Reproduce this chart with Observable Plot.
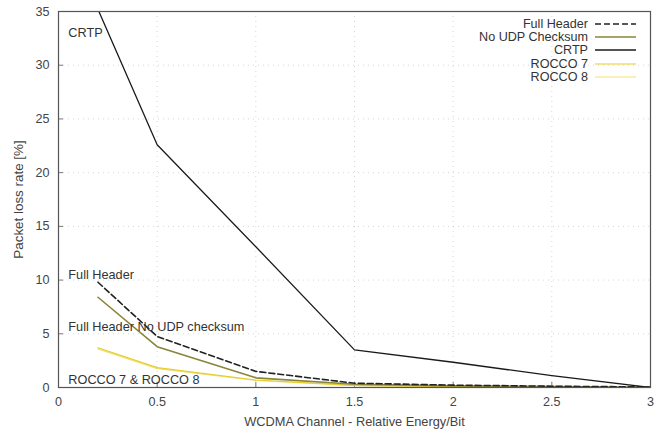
<!DOCTYPE html>
<html><head><meta charset="utf-8">
<script src="https://cdn.jsdelivr.net/npm/d3@7"></script>
<script src="https://cdn.jsdelivr.net/npm/@observablehq/plot@0.6"></script>
<style>
body{margin:0;background:#fff;font-family:"Liberation Sans",Arial,sans-serif;}
#wrap{position:relative;width:656px;height:429px;}
#legend{position:absolute;right:18px;top:17px;font-size:12.6px;color:#333;}
#legend div{display:flex;align-items:center;justify-content:flex-end;height:13.3px;}
#legend svg{margin-left:5px;}
</style>
</head><body>
<div id="wrap"></div>
<script>
const energy = [0.2, 0.5, 1, 1.5, 2, 2.5, 3];
const seriesNames = ["Full Header", "No UDP Checksum", "CRTP", "ROCCO 7", "ROCCO 8"];
const fullHeader = [9.8, 4.75, 1.5, 0.4, 0.22, 0.12, 0.05];
const noUdpChecksum = [8.4, 3.8, 0.9, 0.3, 0.15, 0.08, 0.0];
const crtp = [35.2, 22.6, 13.1, 3.5, 2.35, 1.1, 0.0];
const rocco7 = [3.7, 1.85, 0.7, 0.2, 0.1, 0.05, 0.0];
const rocco8 = [3.6, 1.75, 0.65, 0.18, 0.08, 0.04, 0.0];
const xTicks = [0, 0.5, 1, 1.5, 2, 2.5, 3];
const yTicks = [0, 5, 10, 15, 20, 25, 30, 35];
const labelTexts = ["CRTP", "Full Header", "Full Header No UDP checksum", "ROCCO 7 & ROCCO 8"];
const labelY = [33, 10.5, 5.6, 0.75];

const styles = {
  "Full Header": {stroke: "#222", dash: "6,3", width: 1.6},
  "No UDP Checksum": {stroke: "#8a8438", dash: null, width: 1.6},
  "CRTP": {stroke: "#1a1a1a", dash: null, width: 1.3},
  "ROCCO 7": {stroke: "#e6cc2a", dash: null, width: 1.2},
  "ROCCO 8": {stroke: "#efe07a", dash: null, width: 1.2}
};
const valuesBy = {"Full Header": fullHeader, "No UDP Checksum": noUdpChecksum, "CRTP": crtp, "ROCCO 7": rocco7, "ROCCO 8": rocco8};
const rows = seriesNames.flatMap(s => energy.map((e, i) => ({s, x: e, y: valuesBy[s][i]})));
const labels = labelTexts.map((t, i) => ({t, x: 0.05, y: labelY[i]}));

const lineMarks = ["ROCCO 8", "ROCCO 7", "No UDP Checksum", "Full Header", "CRTP"].map(s =>
  Plot.line(rows.filter(d => d.s === s), {x: "x", y: "y", stroke: styles[s].stroke, strokeWidth: styles[s].width, strokeDasharray: styles[s].dash, clip: true})
);

const chart = Plot.plot({
  width: 656, height: 429,
  marginLeft: 58, marginRight: 6, marginTop: 11, marginBottom: 42,
  style: {fontFamily: "Liberation Sans, Arial, sans-serif", fontSize: "12.6px", color: "#444", background: "#fff"},
  x: {domain: [0, 3]},
  y: {domain: [0, 35]},
  marks: [
    Plot.gridX(xTicks.slice(1, -1), {stroke: "#bbb", strokeOpacity: 0.6, strokeDasharray: "1,4"}),
    Plot.gridY(yTicks.slice(1, -1), {stroke: "#bbb", strokeOpacity: 0.6, strokeDasharray: "1,4"}),
    Plot.axisX({ticks: xTicks, tickSize: 0, tickPadding: 10, fontSize: 12.6, tickFormat: d => String(d), label: null}),
    Plot.axisY({ticks: yTicks, tickSize: 0, tickPadding: 9, fontSize: 12.6, tickFormat: d => String(d), label: null}),
    Plot.axisX({ticks: [], tickSize: 0, fontSize: 12.8,
      label: "WCDMA Channel - Relative Energy/Bit", labelAnchor: "center", labelArrow: "none", labelOffset: 38}),
    Plot.axisY({ticks: [], tickSize: 0, fontSize: 13.4,
      label: "Packet loss rate [%]", labelAnchor: "center", labelArrow: "none", labelOffset: 45}),
    Plot.tickX(xTicks, {x: d => d, insetTop: 371, stroke: "#777"}),
    Plot.tickY(yTicks, {y: d => d, insetRight: 587, stroke: "#777"}),
    ...lineMarks,
    Plot.text(labels, {x: "x", y: "y", text: "t", textAnchor: "start", fill: "#333", fontSize: 12.7}),
    Plot.frame({stroke: "#555", strokeWidth: 1.2})
  ]
});
document.getElementById("wrap").appendChild(chart);

const legend = document.createElement("div");
legend.id = "legend";
seriesNames.forEach(s => {
  const row = document.createElement("div");
  const st = styles[s];
  row.innerHTML = `<span>${s}</span><svg width="45" height="6"><line x1="2" y1="3" x2="43" y2="3" stroke="${st.stroke}" stroke-width="${st.width}" ${st.dash ? `stroke-dasharray="${st.dash}"` : ""}/></svg>`;
  legend.appendChild(row);
});
document.getElementById("wrap").appendChild(legend);
</script>
</body></html>
